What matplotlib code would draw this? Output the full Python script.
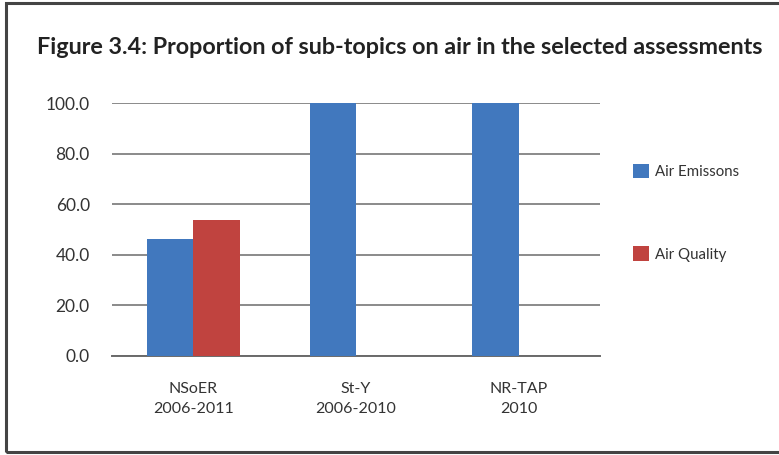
import numpy as np
import matplotlib
matplotlib.use("Agg")
import matplotlib.pyplot as plt
from matplotlib.patches import Rectangle

categories = ["NSoER\n2006-2011", "St-Y\n2006-2010", "NR-TAP\n2010"]
air_emissions = [46.2, 100.0, 100.0]
air_quality = [53.8, 0.0, 0.0]
series_names = ["Air Emissons", "Air Quality"]
yticks = [0, 20, 40, 60, 80, 100]

plt.rcParams['font.family'] = ['Lato', 'DejaVu Sans']

fig = plt.figure(figsize=(7.79, 4.55), dpi=100)
ax = fig.add_axes([112 / 779, 1 - 355.7 / 455, 488 / 779, 252.4 / 455])

x = np.arange(len(categories))
w = 0.284
ax.bar(x - w / 2, air_emissions, w, color="#4178BE", label=series_names[0], zorder=3)
# only the first assessment has an air quality share
ax.bar(x[:1] + w / 2, air_quality[:1], w, color="#C0433F", label=series_names[1], zorder=3)

ax.set_xlim(-0.5, 2.5)
ax.set_ylim(0, 100)
ax.set_yticks(yticks)
ax.set_yticklabels([f"{v:.1f}" for v in yticks], fontsize=12.5, color="#333333")
ax.set_xticks(x)
ax.set_xticklabels(categories, fontsize=11.5, color="#333333", linespacing=1.55)
ax.tick_params(axis="both", length=0)
ax.tick_params(axis="y", pad=16)
ax.tick_params(axis="x", pad=19)
ax.grid(axis="y", color="#8a8a8a", linewidth=1.4, zorder=0)
for s in ["left", "right", "top"]:
    ax.spines[s].set_visible(False)
ax.spines["bottom"].set_color("#6a6a6a")
ax.spines["bottom"].set_linewidth(1.4)

fig.legend(loc="upper left", bbox_to_anchor=(619 / 779, 1 - 150 / 455),
           frameon=False, fontsize=10.8, labelspacing=4.5,
           handlelength=1.1, handleheight=1.1, handletextpad=0.4,
           labelcolor="#333333")

fig.text(400 / 779, 1 - 48 / 455,
         "Figure 3.4: Proportion of sub-topics on air in the selected assessments",
         ha="center", va="center", fontsize=16.8, fontweight="bold", color="#222222")

# outer frame of the figure box
fig.patches.append(Rectangle((6 / 779, 3 / 455), 1.0, 449 / 455,
                             transform=fig.transFigure, fill=False,
                             edgecolor="#444444", linewidth=2.2))

fig.savefig("out.png", dpi=100)
